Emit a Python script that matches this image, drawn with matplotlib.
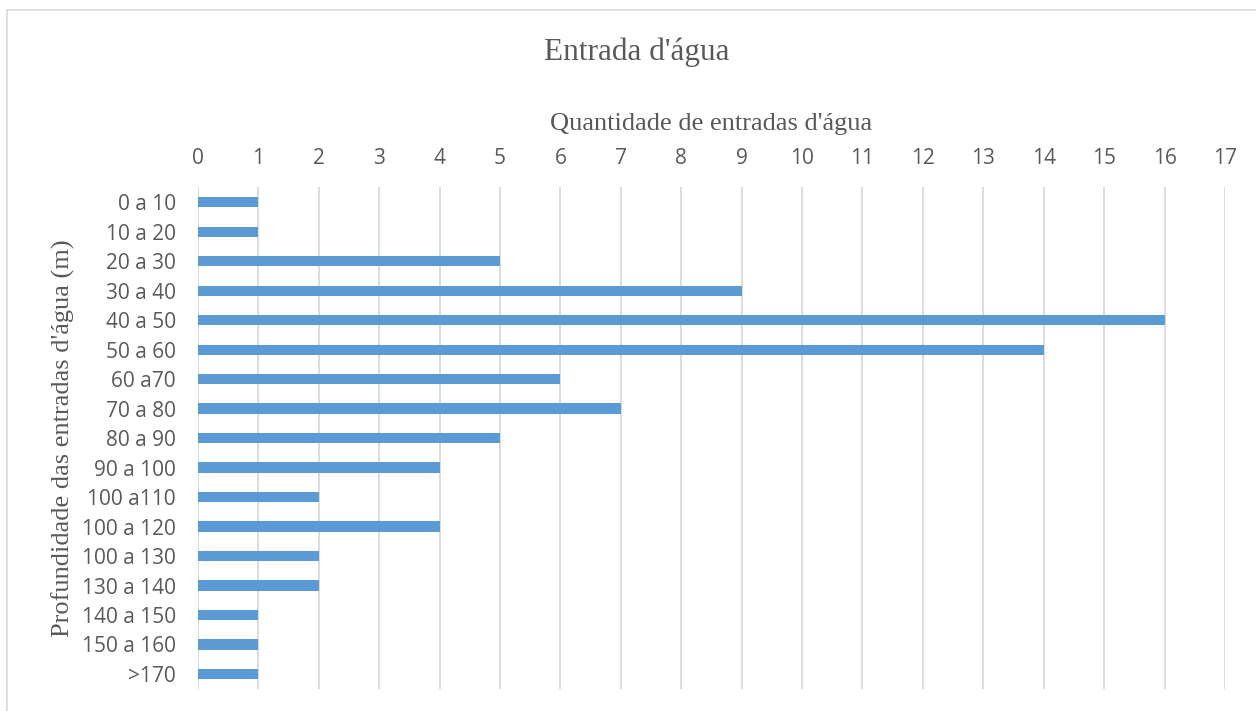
import matplotlib.pyplot as plt
import matplotlib.patches as patches
import numpy as np

categories = ['0 a 10', '10 a 20', '20 a 30', '30 a 40', '40 a 50', '50 a 60', '60 a70',
              '70 a 80', '80 a 90', '90 a 100', '100 a110', '100 a 120', '100 a 130',
              '130 a 140', '140 a 150', '150 a 160', '>170']
values = [1, 1, 5, 9, 16, 14, 6, 7, 5, 4, 2, 4, 2, 2, 1, 1, 1]
xticks = list(range(0, 18))

text_color = '#595959'
serif = ['Liberation Serif', 'DejaVu Serif']
sans = ['Open Sans', 'DejaVu Sans']

fig = plt.figure(figsize=(12.56, 7.11), dpi=100)
ax = fig.add_axes([0.1576, 0.0313, 0.8177, 0.7053])

y = np.arange(len(categories))
ax.barh(y, values, height=0.34, color='#5B9BD5', zorder=3)
ax.set_ylim(len(categories) - 0.5, -0.5)
ax.set_xlim(0, 17)

ax.set_xticks(xticks)
ax.xaxis.tick_top()
ax.set_yticks(y)
ax.set_yticklabels(categories)
ax.tick_params(axis='both', length=0, colors=text_color, labelsize=15)
ax.tick_params(axis='x', pad=13)
ax.tick_params(axis='y', pad=16)
for lbl in ax.get_xticklabels() + ax.get_yticklabels():
    lbl.set_family(sans)

ax.grid(axis='x', color='#D9D9D9', linewidth=1.3, zorder=0)
for s in ax.spines.values():
    s.set_visible(False)

ax.set_xlabel("Quantidade de entradas d'água", family=serif, fontsize=19,
              color=text_color, labelpad=13)
ax.xaxis.set_label_position('top')
ax.set_ylabel("Profundidade das entradas d'água (m)", family=serif, fontsize=19,
              color=text_color, labelpad=5)

fig.text(0.507, 0.927, "Entrada d'água", family=serif, fontsize=22.5,
         color=text_color, ha='center', va='center')

# chart area border
fig.patches.append(patches.Rectangle((7 / 1256, -0.05), 1.1, 1 - 10 / 711 + 0.05,
                                     transform=fig.transFigure, fill=False,
                                     edgecolor='#D9D9D9', linewidth=1.2))

fig.savefig('out.png', dpi=100)
